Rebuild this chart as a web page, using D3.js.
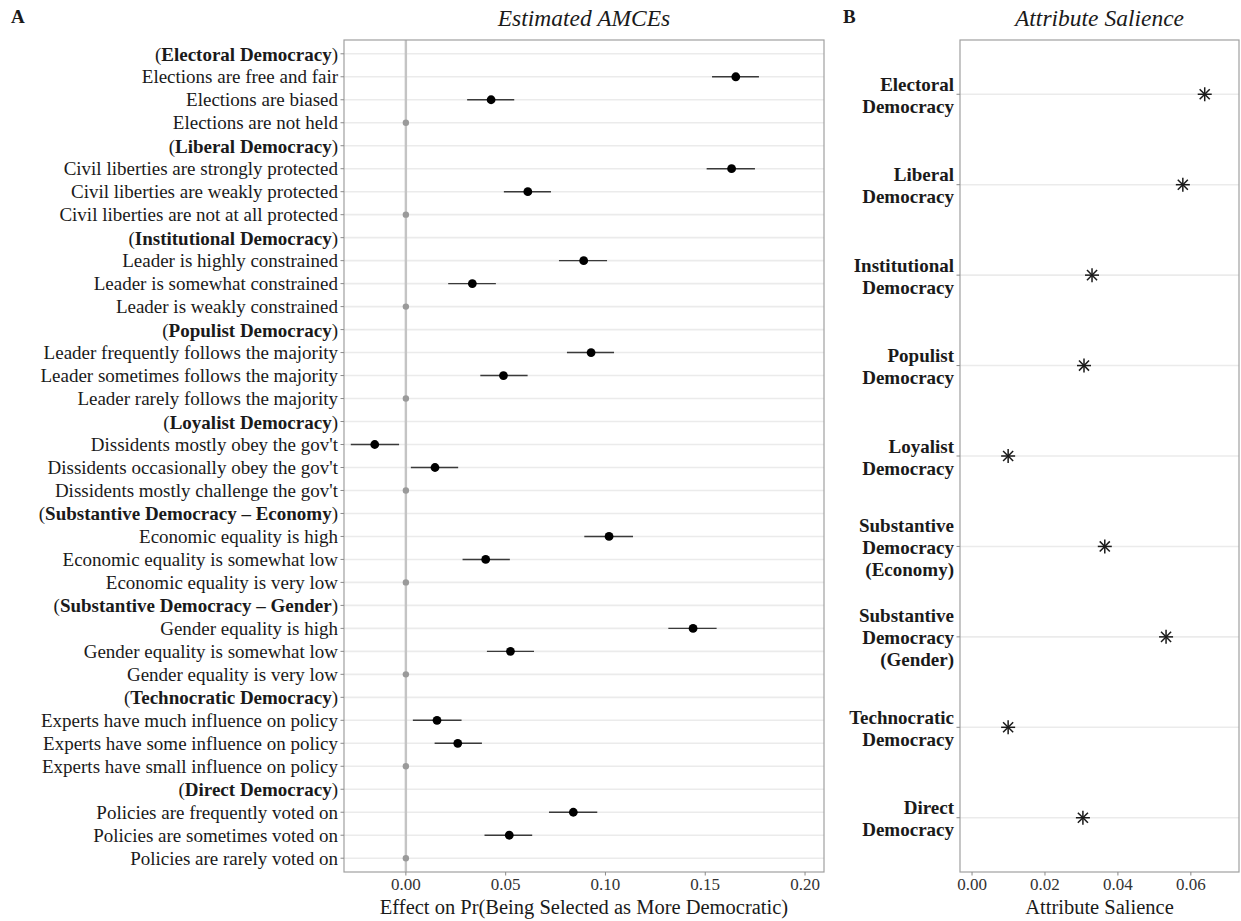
<!DOCTYPE html>
<html>
<head>
<meta charset="utf-8">
<script src="https://cdn.jsdelivr.net/npm/d3@7"></script>
<style>
  html, body { margin: 0; padding: 0; background: #fff; }
  svg { display: block; }
  text { font-family: "Liberation Serif", "DejaVu Serif", serif; fill: #1a1a1a; }
</style>
</head>
<body>
<svg id="chart" width="1241" height="921"></svg>
<script>
// ---------------- DATA ----------------
const amceLabels = [
  "(Electoral Democracy)",
  "Elections are free and fair",
  "Elections are biased",
  "Elections are not held",
  "(Liberal Democracy)",
  "Civil liberties are strongly protected",
  "Civil liberties are weakly protected",
  "Civil liberties are not at all protected",
  "(Institutional Democracy)",
  "Leader is highly constrained",
  "Leader is somewhat constrained",
  "Leader is weakly constrained",
  "(Populist Democracy)",
  "Leader frequently follows the majority",
  "Leader sometimes follows the majority",
  "Leader rarely follows the majority",
  "(Loyalist Democracy)",
  "Dissidents mostly obey the gov't",
  "Dissidents occasionally obey the gov't",
  "Dissidents mostly challenge the gov't",
  "(Substantive Democracy \u2013 Economy)",
  "Economic equality is high",
  "Economic equality is somewhat low",
  "Economic equality is very low",
  "(Substantive Democracy \u2013 Gender)",
  "Gender equality is high",
  "Gender equality is somewhat low",
  "Gender equality is very low",
  "(Technocratic Democracy)",
  "Experts have much influence on policy",
  "Experts have some influence on policy",
  "Experts have small influence on policy",
  "(Direct Democracy)",
  "Policies are frequently voted on",
  "Policies are sometimes voted on",
  "Policies are rarely voted on"
];
// null = attribute header row (no estimate); 0 with null CI = reference level
const amceEst = [
  null, 0.1653, 0.0427, 0,
  null, 0.1632, 0.0611, 0,
  null, 0.0891, 0.0333, 0,
  null, 0.0928, 0.0489, 0,
  null, -0.0156, 0.0146, 0,
  null, 0.1018, 0.0400, 0,
  null, 0.1439, 0.0524, 0,
  null, 0.0156, 0.0260, 0,
  null, 0.0839, 0.0518, 0
];
const amceLower = [
  null, 0.1534, 0.0307, null,
  null, 0.1507, 0.0491, null,
  null, 0.0767, 0.0212, null,
  null, 0.0807, 0.0373, null,
  null, -0.0276, 0.0025, null,
  null, 0.0894, 0.0284, null,
  null, 0.1315, 0.0406, null,
  null, 0.0035, 0.0144, null,
  null, 0.0717, 0.0394, null
];
const amceUpper = [
  null, 0.1769, 0.0543, null,
  null, 0.1749, 0.0727, null,
  null, 0.1008, 0.0451, null,
  null, 0.1043, 0.0610, null,
  null, -0.0034, 0.0262, null,
  null, 0.1138, 0.0521, null,
  null, 0.1557, 0.0642, null,
  null, 0.0279, 0.0381, null,
  null, 0.0959, 0.0633, null
];
const amceTicks = [0.00, 0.05, 0.10, 0.15, 0.20];

const salienceLabels = [
  ["Electoral", "Democracy"],
  ["Liberal", "Democracy"],
  ["Institutional", "Democracy"],
  ["Populist", "Democracy"],
  ["Loyalist", "Democracy"],
  ["Substantive", "Democracy", "(Economy)"],
  ["Substantive", "Democracy", "(Gender)"],
  ["Technocratic", "Democracy"],
  ["Direct", "Democracy"]
];
const salienceValues = [0.0638, 0.0578, 0.0329, 0.0307, 0.0099, 0.0364, 0.0532, 0.0099, 0.0304];
const salienceTicks = [0.00, 0.02, 0.04, 0.06];

// ---------------- LAYOUT ----------------
const svg = d3.select("#chart");
const plotTop = 40, plotBottom = 872;
const A = { left: 344, right: 824 };
const B = { left: 960, right: 1239 };
const borderCol = "#a0a0a0";
const gridCol = "#ebebeb";
const tickCol = "#8a8a8a";
const labelSize = "19px";
const tickSize = "17px";
const axisTitleSize = "20.5px";
const titleSize = "23.5px";

// ---------------- PANEL A ----------------
const xA = d3.scaleLinear().domain([-0.031, 0.2095]).range([A.left, A.right]);
const yA = d3.scalePoint().domain(d3.range(amceLabels.length)).range([plotTop, plotBottom]).padding(0.6);

const gA = svg.append("g");
gA.selectAll("line.grid").data(d3.range(amceLabels.length)).join("line")
  .attr("x1", A.left).attr("x2", A.right)
  .attr("y1", d => yA(d)).attr("y2", d => yA(d))
  .attr("stroke", gridCol).attr("stroke-width", 1.6);
gA.append("line")
  .attr("x1", xA(0)).attr("x2", xA(0))
  .attr("y1", plotTop).attr("y2", plotBottom)
  .attr("stroke", "#c4c4c4").attr("stroke-width", 2.4);

const idx = d3.range(amceLabels.length);
gA.selectAll("line.err").data(idx.filter(i => amceLower[i] != null)).join("line")
  .attr("x1", i => xA(amceLower[i])).attr("x2", i => xA(amceUpper[i]))
  .attr("y1", i => yA(i)).attr("y2", i => yA(i))
  .attr("stroke", "#3a3a3a").attr("stroke-width", 1.4);
gA.selectAll("circle.pt").data(idx.filter(i => amceEst[i] != null)).join("circle")
  .attr("cx", i => xA(amceEst[i])).attr("cy", i => yA(i))
  .attr("r", i => amceLower[i] == null ? 3.2 : 4.4)
  .attr("fill", i => amceLower[i] == null ? "#9a9a9a" : "#000");

gA.append("rect").attr("x", A.left).attr("y", plotTop)
  .attr("width", A.right - A.left).attr("height", plotBottom - plotTop)
  .attr("fill", "none").attr("stroke", borderCol).attr("stroke-width", 1.2);

const yAxisA = gA.append("g");
idx.forEach(i => {
  const y = yA(i);
  yAxisA.append("line").attr("x1", A.left - 3.5).attr("x2", A.left)
    .attr("y1", y).attr("y2", y).attr("stroke", tickCol).attr("stroke-width", 1);
  const lab = amceLabels[i];
  const t = yAxisA.append("text").attr("x", A.left - 6).attr("y", y)
    .attr("text-anchor", "end").attr("dominant-baseline", "central")
    .style("font-size", labelSize);
  if (lab.startsWith("(")) {
    t.append("tspan").text("(");
    t.append("tspan").style("font-weight", "bold").text(lab.slice(1, -1));
    t.append("tspan").text(")");
  } else {
    t.text(lab);
  }
});

const xAxisA = gA.append("g");
amceTicks.forEach(v => {
  xAxisA.append("line").attr("x1", xA(v)).attr("x2", xA(v))
    .attr("y1", plotBottom).attr("y2", plotBottom + 3.5).attr("stroke", tickCol);
  xAxisA.append("text").attr("x", xA(v)).attr("y", plotBottom + 18)
    .attr("text-anchor", "middle").style("font-size", tickSize).style("fill", "#333")
    .text(d3.format(".2f")(v));
});
svg.append("text").attr("x", (A.left + A.right) / 2).attr("y", 914)
  .attr("text-anchor", "middle").style("font-size", axisTitleSize)
  .text("Effect on Pr(Being Selected as More Democratic)");
svg.append("text").attr("x", (A.left + A.right) / 2).attr("y", 26)
  .attr("text-anchor", "middle").style("font-size", titleSize).style("font-style", "italic")
  .text("Estimated AMCEs");
svg.append("text").attr("x", 11).attr("y", 23)
  .style("font-size", "19px").style("font-weight", "bold").text("A");

// ---------------- PANEL B ----------------
const xB = d3.scaleLinear().domain([-0.0033, 0.0732]).range([B.left, B.right]);
const yB = d3.scalePoint().domain(d3.range(salienceLabels.length)).range([plotTop, plotBottom]).padding(0.6);
const gB = svg.append("g");
const idxB = d3.range(salienceLabels.length);
gB.selectAll("line.grid").data(idxB).join("line")
  .attr("x1", B.left).attr("x2", B.right)
  .attr("y1", d => yB(d)).attr("y2", d => yB(d))
  .attr("stroke", gridCol).attr("stroke-width", 1.6);

const s = 7;
idxB.forEach(i => {
  const cx = xB(salienceValues[i]), cy = yB(i);
  const m = gB.append("g").attr("transform", `translate(${cx},${cy})`)
    .attr("stroke", "#1a1a1a").attr("stroke-width", 1.5);
  m.append("line").attr("x1", -s).attr("x2", s).attr("y1", 0).attr("y2", 0);
  m.append("line").attr("x1", 0).attr("x2", 0).attr("y1", -s).attr("y2", s);
  const d = s * 0.72;
  m.append("line").attr("x1", -d).attr("x2", d).attr("y1", -d).attr("y2", d);
  m.append("line").attr("x1", -d).attr("x2", d).attr("y1", d).attr("y2", -d);
});

gB.append("rect").attr("x", B.left).attr("y", plotTop)
  .attr("width", B.right - B.left).attr("height", plotBottom - plotTop)
  .attr("fill", "none").attr("stroke", borderCol).attr("stroke-width", 1.2);

const lineH = 22;
idxB.forEach(i => {
  const y = yB(i);
  gB.append("line").attr("x1", B.left - 3.5).attr("x2", B.left)
    .attr("y1", y).attr("y2", y).attr("stroke", tickCol);
  const lines = salienceLabels[i];
  const y0 = y - (lines.length - 1) * lineH / 2 + 1;
  const t = gB.append("text").attr("text-anchor", "end")
    .style("font-size", labelSize).style("font-weight", "bold");
  lines.forEach((l, k) => {
    t.append("tspan").attr("x", B.left - 6).attr("y", y0 + k * lineH)
      .attr("dominant-baseline", "central").text(l);
  });
});

salienceTicks.forEach(v => {
  gB.append("line").attr("x1", xB(v)).attr("x2", xB(v))
    .attr("y1", plotBottom).attr("y2", plotBottom + 3.5).attr("stroke", tickCol);
  gB.append("text").attr("x", xB(v)).attr("y", plotBottom + 18)
    .attr("text-anchor", "middle").style("font-size", tickSize).style("fill", "#333")
    .text(d3.format(".2f")(v));
});
svg.append("text").attr("x", (B.left + B.right) / 2).attr("y", 914)
  .attr("text-anchor", "middle").style("font-size", axisTitleSize)
  .text("Attribute Salience");
svg.append("text").attr("x", (B.left + B.right) / 2).attr("y", 26)
  .attr("text-anchor", "middle").style("font-size", titleSize).style("font-style", "italic")
  .text("Attribute Salience");
svg.append("text").attr("x", 843).attr("y", 23)
  .style("font-size", "19px").style("font-weight", "bold").text("B");
</script>
</body>
</html>
